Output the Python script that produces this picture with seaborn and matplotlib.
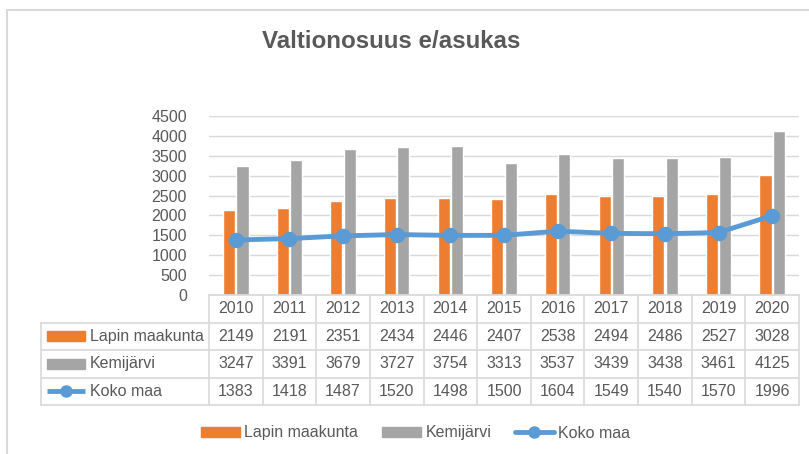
import matplotlib
matplotlib.use("Agg")
import matplotlib.pyplot as plt
from matplotlib.patches import Rectangle, Patch
from matplotlib.lines import Line2D
import pandas as pd
import seaborn as sns

years = ["2010", "2011", "2012", "2013", "2014", "2015", "2016", "2017", "2018", "2019", "2020"]
lappi = [2149, 2191, 2351, 2434, 2446, 2407, 2538, 2494, 2486, 2527, 3028]
kemijarvi = [3247, 3391, 3679, 3727, 3754, 3313, 3537, 3439, 3438, 3461, 4125]
koko_maa = [1383, 1418, 1487, 1520, 1498, 1500, 1604, 1549, 1540, 1570, 1996]

bar_names = ["Lapin maakunta", "Kemijärvi"]
line_name = "Koko maa"
colors = {"Lapin maakunta": "#ED7D31", "Kemijärvi": "#A5A5A5", "Koko maa": "#5B9BD5"}
text_col = "#595959"
grid_col = "#D9D9D9"

bars = pd.DataFrame({
    "year": years * 2,
    "series": [bar_names[0]] * len(years) + [bar_names[1]] * len(years),
    "value": lappi + kemijarvi,
})
line = pd.DataFrame({"year": years, "value": koko_maa})

sns.set_theme(style="white")
plt.rcParams["font.family"] = ["Liberation Sans", "DejaVu Sans"]

W, H = 809, 454
fig = plt.figure(figsize=(W / 100, H / 100), dpi=100)

# outer chart frame (cropped at right/bottom)
top = 1 - 9.5 / H
fig.patches.append(Rectangle((7.5 / W, -0.2), 1.2, top + 0.2,
                             transform=fig.transFigure, fill=False,
                             edgecolor=grid_col, linewidth=1.5))

x0, x1 = 209, 799
ax = fig.add_axes([x0 / W, 1 - 295 / H, (x1 - x0) / W, (295 - 116) / H])

sns.barplot(data=bars, x="year", y="value", hue="series", palette=colors,
            width=0.5, gap=0.1, ax=ax, legend=False, saturation=1)
sns.pointplot(data=line, x="year", y="value", color=colors[line_name], ax=ax,
              markers="o", markersize=8.5, linewidth=3.5)

ax.set_xlim(-0.5, len(years) - 0.5)
ax.set_ylim(0, 4500)
ax.set_yticks(range(0, 4501, 500))
ax.yaxis.grid(True, color=grid_col, linewidth=1)
ax.set_axisbelow(True)
ax.set_xticks([])
ax.set_xlabel("")
ax.set_ylabel("")
ax.tick_params(axis="y", labelsize=11.5, labelcolor=text_col, length=0, pad=16)
for s in ["top", "right", "left"]:
    ax.spines[s].set_visible(False)
ax.spines["bottom"].set_color(grid_col)

fig.text(391 / W, 1 - 42 / H, "Valtionosuus e/asukas", ha="center", va="center",
         fontsize=17.4, fontweight="bold", color=text_col)

# data table under the axis
tab = fig.add_axes([x0 / W, 1 - 405 / H, (x1 - x0) / W, (405 - 295) / H])
tab.set_xlim(-0.5, len(years) - 0.5)
tab.set_ylim(4, 0)
tab.axis("off")
colw = (x1 - x0) / len(years)


def px(xpix):
    return -0.5 + (xpix - x0) / colw


left = px(41)
lw = 1.2
for i in range(len(years) + 1):
    tab.plot([i - 0.5, i - 0.5], [0, 4], color=grid_col, lw=lw, clip_on=False)
tab.plot([left, left], [1, 4], color=grid_col, lw=lw, clip_on=False)
for r in range(1, 5):
    tab.plot([left, len(years) - 0.5], [r, r], color=grid_col, lw=lw, clip_on=False)

rows = [(bar_names[0], lappi), (bar_names[1], kemijarvi), (line_name, koko_maa)]
for i, y in enumerate(years):
    tab.text(i, 0.5, y, ha="center", va="center", fontsize=11.5, color=text_col)
for r, (name, vals) in enumerate(rows, start=1):
    for i, v in enumerate(vals):
        tab.text(i, r + 0.5, str(v), ha="center", va="center", fontsize=11.5, color=text_col)
    if name == line_name:
        tab.plot([px(47), px(85)], [r + 0.5, r + 0.5], color=colors[name], lw=3.5,
                 clip_on=False, solid_capstyle="butt")
        tab.plot([(px(47) + px(85)) / 2], [r + 0.5], "o", color=colors[name],
                 markersize=8, clip_on=False)
    else:
        tab.add_patch(Rectangle((px(47), r + 0.32), px(85) - px(47), 0.36,
                                color=colors[name], clip_on=False))
    tab.text(px(90), r + 0.5, name, ha="left", va="center", fontsize=11.5, color=text_col)

handles = [Patch(color=colors[bar_names[0]]), Patch(color=colors[bar_names[1]]),
           Line2D([], [], color=colors[line_name], lw=3.5, marker="o", markersize=8)]
fig.legend(handles, bar_names + [line_name], loc="center", ncol=3, frameon=False,
           bbox_to_anchor=(0.514, 1 - 433 / H), fontsize=11.5, labelcolor=text_col,
           handlelength=2.4, handleheight=0.6, handletextpad=0.3, columnspacing=1.5)

fig.savefig("out.png", dpi=100)
